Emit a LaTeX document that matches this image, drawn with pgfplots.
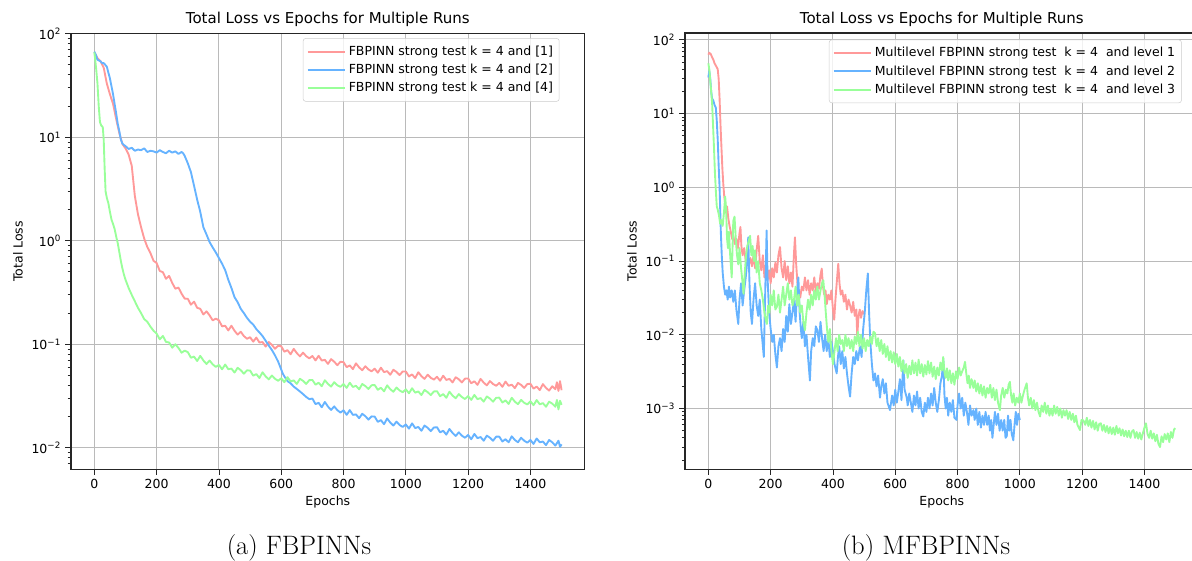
\documentclass[border=0pt]{standalone}
\usepackage{pgfplots}
\pgfplotsset{compat=1.18}
\usepackage{fontspec}
\newfontfamily\dejavu{DejaVu Sans}
\definecolor{lossred}{HTML}{FF9999}
\definecolor{lossblue}{HTML}{66B3FF}
\definecolor{lossgreen}{HTML}{99FF99}

\pgfplotsset{
  lossax/.style={
    scale only axis, width=410.9pt, height=349pt,
    xmin=-75, xmax=1574,
    xtick={0,200,...,1400},
    grid=major, grid style={line width=0.8pt, color=black!27},
    axis line style={line width=0.9pt, black!85},
    tick align=outside, tick pos=left,
    major tick length=4.5pt, minor tick length=2.6pt,
    every tick/.style={black!85, line width=0.7pt},
    font=\dejavu\fontsize{10}{12}\selectfont,
    ticklabel style={font=\dejavu\fontsize{10}{12}\selectfont},
    /pgf/number format/assume math mode=true,
    /pgf/number format/1000 sep={},
    title={Total Loss vs Epochs for Multiple Runs},
    title style={font=\dejavu\fontsize{12}{14}\selectfont, at={(0.5,1)}, anchor=south, yshift=-4.6pt},
    xlabel={Epochs}, ylabel={Total Loss},
    every axis x label/.style={at={(axis description cs:0.5,-0.075)}, anchor=center},
    every axis y label/.style={at={(axis description cs:-0.1032,0.5)}, rotate=90, anchor=center},
    legend cell align=left,
    legend image code/.code={\draw[##1] (0pt,0pt) -- (22pt,0pt); \path (0pt,0pt) -- (30pt,0pt);},
    legend style={font=\dejavu\fontsize{10}{12}\selectfont, draw=black!20, rounded corners=2pt,
      fill=white, fill opacity=0.8, text opacity=1, row sep=1.5pt, inner xsep=3pt, inner ysep=4pt},
    every axis plot/.append style={line width=1.5pt, line join=round},
  }
}

\begin{document}
\begin{tikzpicture}
% (a) FBPINNs
\begin{axis}[ymode=log, lossax, at={(56.8pt,73.2pt)}, anchor=south west,
    ymin=6.17e-3, ymax=101,
    ytick={0.01,0.1,1,10,100},
    yticklabels={10\textsuperscript{−2},10\textsuperscript{−1},10\textsuperscript{0},10\textsuperscript{1},10\textsuperscript{2}},
    minor ytick={0.007,0.008,0.009,0.02,0.03,0.04,0.05,0.06,0.07,0.08,0.09,0.2,0.3,0.4,0.5,0.6,0.7,0.8,0.9,2,3,4,5,6,7,8,9,20,30,40,50,60,70,80,90},
    legend style={at={(0.951,0.9886)}, anchor=north east},
]
\addplot[lossred] coordinates {
(0,66) (5,62) (10,58) (20,54) (30,47) (40,33) (50,26) (60,21) (70,15) (80,11) (90,8.6) (100,7.8) (110,6.8) (120,5.3) (130,2.7) (140,1.8) (150,1.35) (160,1.05) (170,0.87) (180,0.76) (190,0.64)
(200,0.609) (210,0.510) (220,0.497) (230,0.429) (240,0.457) (250,0.391) (260,0.344) (270,0.353) (280,0.308) (290,0.276)
(300,0.275) (310,0.241) (320,0.258) (330,0.225) (340,0.22) (350,0.194) (360,0.208) (370,0.190) (380,0.170) (390,0.177)
(400,0.170) (410,0.149) (420,0.151) (430,0.136) (440,0.151) (450,0.135) (460,0.124) (470,0.132) (480,0.120) (490,0.113)
(500,0.117) (510,0.106) (520,0.116) (530,0.104) (540,0.105) (550,0.095) (560,0.105) (570,0.0986) (580,0.0905) (590,0.0968)
(600,0.0956) (610,0.0848) (620,0.0877) (630,0.080) (640,0.0903) (650,0.0821) (660,0.0764) (670,0.083) (680,0.0768) (690,0.0731)
(700,0.077) (710,0.0698) (720,0.0774) (730,0.0696) (740,0.0707) (750,0.0646) (760,0.0718) (770,0.0679) (780,0.0628) (790,0.0677)
(800,0.0672) (810,0.0601) (820,0.0625) (830,0.0575) (840,0.0654) (850,0.0598) (860,0.0561) (870,0.0614) (880,0.0571) (890,0.0548)
(900,0.0581) (910,0.0531) (920,0.0594) (930,0.0538) (940,0.055) (950,0.0507) (960,0.0567) (970,0.054) (980,0.0504) (990,0.0546)
(1000,0.0546) (1010,0.0489) (1020,0.0511) (1030,0.0471) (1040,0.0537) (1050,0.0492) (1060,0.0463) (1070,0.0508) (1080,0.0474) (1090,0.0456)
(1100,0.0485) (1110,0.0444) (1120,0.0497) (1130,0.0452) (1140,0.0463) (1150,0.0428) (1160,0.048) (1170,0.0459) (1180,0.0428) (1190,0.0466)
(1200,0.0467) (1210,0.042) (1220,0.0439) (1230,0.0405) (1240,0.0463) (1250,0.0426) (1260,0.0401) (1270,0.0441) (1280,0.0413) (1290,0.0397)
(1300,0.0423) (1310,0.0388) (1320,0.0436) (1330,0.0397) (1340,0.0407) (1350,0.0377) (1360,0.0423) (1370,0.0405) (1380,0.0379) (1390,0.0413)
(1400,0.0415) (1410,0.0373) (1420,0.039) (1430,0.0361) (1440,0.0412) (1450,0.0379) (1460,0.0357) (1470,0.0393) (1480,0.0368) (1485,0.043) (1490,0.0354) (1495,0.044) (1500,0.036)
};
\addlegendentry{FBPINN strong test k = 4 and [1]}
\addplot[lossblue] coordinates {
(0,67) (5,62) (10,56) (15,55) (20,54) (25,52) (30,52) (35,50) (40,48) (45,42) (50,37) (55,31) (60,26) (65,21) (70,17) (75,13.5) (80,11.5) (85,9.5) (90,8.7) (95,8.4) (100,8.2)
(110,7.7) (120,7.9) (130,7.4) (140,7.6) (150,7.5) (160,7.8) (170,7.2) (180,7.4) (190,7.3) (200,7.1) (210,7.5) (220,7.2) (230,7.0) (240,7.4) (250,7.1) (260,7.3) (270,6.9) (280,7.2) (285,7.0) (290,6.6)
(300,5.6) (310,4.6) (320,3.4) (330,2.5) (340,1.9) (350,1.35) (360,1.15) (370,0.97) (380,0.86) (390,0.77) (400,0.68) (410,0.6) (420,0.52) (430,0.42) (440,0.35) (450,0.285) (460,0.255) (470,0.22) (480,0.2) (490,0.18)
(500,0.165) (510,0.155) (520,0.14) (530,0.13) (540,0.12) (550,0.108) (560,0.097) (570,0.088) (580,0.078) (590,0.068) (600,0.057) (605,0.052) (610,0.049) (620,0.044) (630,0.042) (640,0.039) (650,0.037) (660,0.035) (670,0.033) (680,0.031) (690,0.0295)
(700,0.0299) (710,0.0264) (720,0.0272) (730,0.0246) (740,0.0277) (750,0.025) (760,0.0232) (770,0.0251) (780,0.0231) (790,0.0219)
(800,0.023) (810,0.0208) (820,0.0231) (830,0.0208) (840,0.021) (850,0.0193) (860,0.0213) (870,0.0202) (880,0.0187) (890,0.0201)
(900,0.02) (910,0.0178) (920,0.0185) (930,0.0169) (940,0.0192) (950,0.0175) (960,0.0164) (970,0.0179) (980,0.0166) (990,0.0159)
(1000,0.0168) (1010,0.0153) (1020,0.0172) (1030,0.0155) (1040,0.0159) (1050,0.0146) (1060,0.0164) (1070,0.0156) (1080,0.0145) (1090,0.0157)
(1100,0.0158) (1110,0.0141) (1120,0.0146) (1130,0.0134) (1140,0.0152) (1150,0.0139) (1160,0.013) (1170,0.0141) (1180,0.0131) (1190,0.0125)
(1200,0.0133) (1210,0.0121) (1220,0.0136) (1230,0.0124) (1240,0.0127) (1250,0.0117) (1260,0.0131) (1270,0.0125) (1280,0.0117) (1290,0.0128)
(1300,0.0128) (1310,0.0115) (1320,0.0121) (1330,0.0113) (1340,0.0129) (1350,0.0119) (1360,0.0113) (1370,0.0125) (1380,0.0117) (1390,0.0112)
(1400,0.0119) (1410,0.0109) (1420,0.0123) (1430,0.0113) (1440,0.0115) (1450,0.0106) (1460,0.0119) (1470,0.0113) (1480,0.0105) (1490,0.0117) (1495,0.0102) (1500,0.0108)
};
\addlegendentry{FBPINN strong test k = 4 and [2]}
\addplot[lossgreen] coordinates {
(0,66) (3,55) (6,45) (10,33) (14,20) (18,14) (22,13) (27,12.5) (30,9.5) (33,5) (36,3) (40,2.6) (45,2.3) (50,1.9) (55,1.6) (60,1.45) (65,1.3) (70,1.1) (75,0.95) (80,0.78) (85,0.64) (90,0.54) (95,0.47)
(100,0.42) (110,0.35) (120,0.3) (130,0.26) (140,0.225) (150,0.2) (160,0.175) (170,0.165) (180,0.148) (190,0.135)
(200,0.1265) (210,0.1116) (220,0.1204) (230,0.1054) (240,0.104) (250,0.0926) (260,0.1001) (270,0.0921) (280,0.0829) (290,0.0868)
(300,0.084) (310,0.0741) (320,0.076) (330,0.0689) (340,0.0773) (350,0.0697) (360,0.0645) (370,0.0696) (380,0.0639) (390,0.0604)
(400,0.0632) (410,0.0573) (420,0.0637) (430,0.0574) (440,0.0582) (450,0.0533) (460,0.0592) (470,0.0562) (480,0.052) (490,0.056)
(500,0.0557) (510,0.0497) (520,0.0515) (530,0.0472) (540,0.0536) (550,0.0489) (560,0.0458) (570,0.0499) (580,0.0464) (590,0.0444)
(600,0.0469) (610,0.043) (620,0.0481) (630,0.0437) (640,0.0448) (650,0.0414) (660,0.0464) (670,0.0443) (680,0.0414) (690,0.045)
(700,0.0452) (710,0.0407) (720,0.0425) (730,0.0393) (740,0.0449) (750,0.0414) (760,0.039) (770,0.043) (780,0.0402) (790,0.0388)
(800,0.0413) (810,0.0379) (820,0.0425) (830,0.0387) (840,0.0397) (850,0.0367) (860,0.0413) (870,0.0395) (880,0.037) (890,0.0402)
(900,0.0404) (910,0.0363) (920,0.038) (930,0.0351) (940,0.0401) (950,0.0368) (960,0.0348) (970,0.0382) (980,0.0358) (990,0.0344)
(1000,0.0367) (1010,0.0336) (1020,0.0376) (1030,0.0341) (1040,0.035) (1050,0.0323) (1060,0.0362) (1070,0.0345) (1080,0.0323) (1090,0.035)
(1100,0.0352) (1110,0.0315) (1120,0.033) (1130,0.0304) (1140,0.0348) (1150,0.0319) (1160,0.0301) (1170,0.033) (1180,0.0309) (1190,0.0296)
(1200,0.0316) (1210,0.029) (1220,0.0324) (1230,0.0295) (1240,0.0302) (1250,0.0279) (1260,0.0313) (1270,0.0299) (1280,0.0279) (1290,0.0304)
(1300,0.0305) (1310,0.0274) (1320,0.0287) (1330,0.0265) (1340,0.0304) (1350,0.0279) (1360,0.0264) (1370,0.029) (1380,0.0272) (1390,0.0262)
(1400,0.0281) (1410,0.0258) (1420,0.0289) (1430,0.0263) (1440,0.027) (1450,0.0249) (1460,0.0279) (1470,0.0267) (1480,0.0249) (1485,0.029) (1490,0.0235) (1495,0.0285) (1500,0.026)
};
\addlegendentry{FBPINN strong test k = 4 and [4]}
\end{axis}

% (b) MFBPINNs
\begin{axis}[ymode=log, lossax, at={(548pt,73.4pt)}, anchor=south west,
    ymin=1.5e-4, ymax=124,
    ytick={0.001,0.01,0.1,1,10,100},
    yticklabels={10\textsuperscript{−3},10\textsuperscript{−2},10\textsuperscript{−1},10\textsuperscript{0},10\textsuperscript{1},10\textsuperscript{2}},
    minor ytick={0.0002,0.0003,0.0004,0.0005,0.0006,0.0007,0.0008,0.0009,0.002,0.003,0.004,0.005,0.006,0.007,0.008,0.009,0.02,0.03,0.04,0.05,0.06,0.07,0.08,0.09,0.2,0.3,0.4,0.5,0.6,0.7,0.8,0.9,2,3,4,5,6,7,8,9,20,30,40,50,60,70,80,90},
    legend style={at={(0.2803,0.9847)}, anchor=north west},
]
\addplot[lossred] coordinates {
(0,63) (3,67) (8,64) (12,58) (16,54) (20,48) (25,44) (30,40) (33,30) (36,16) (39,7) (42,3.5) (45,1.8) (48,1.1) (51,0.75) (54,0.6) (57,0.45) (60,0.55) (64,0.38) (68,0.3) (72,0.25) (76,0.2) (80,0.22) (85,0.17) (90,0.2) (95,0.15)
(100,0.24) (103,0.29) (106,0.16) (110,0.12) (115,0.15) (120,0.1) (125,0.13) (130,0.09) (135,0.11) (140,0.085) (145,0.12) (150,0.08) (155,0.14) (160,0.22) (165,0.1) (170,0.075) (175,0.12) (180,0.06) (185,0.09) (190,0.055) (195,0.075)
(200,0.05) (205,0.08) (210,0.06) (215,0.095) (220,0.07) (225,0.12) (230,0.155) (235,0.08) (240,0.06) (245,0.1) (250,0.055) (255,0.085) (260,0.05) (265,0.07) (270,0.045) (275,0.13) (278,0.21) (282,0.09) (286,0.05) (290,0.035) (295,0.032)
(300,0.045) (305,0.04) (310,0.06) (315,0.04) (320,0.055) (325,0.035) (330,0.05) (335,0.04) (340,0.06) (345,0.038) (350,0.05) (355,0.042) (360,0.065) (364,0.079) (368,0.045) (372,0.035) (376,0.04) (380,0.026) (385,0.035) (390,0.03) (395,0.04)
(400,0.022) (404,0.016) (408,0.03) (412,0.05) (417,0.092) (421,0.05) (425,0.035) (430,0.04) (435,0.028) (440,0.035) (445,0.022) (450,0.03) (455,0.025) (460,0.02) (465,0.028) (470,0.018) (475,0.022) (478,0.0095) (482,0.018) (486,0.022) (490,0.017) (495,0.021) (500,0.019)
};
\addlegendentry{Multilevel FBPINN strong test~ k = 4~ and level 1}
\addplot[lossblue] coordinates {
(0,31) (3,38) (6,30) (9,20) (12,16) (16,15) (20,13) (24,12) (27,8) (30,4.5) (33,2) (36,1.0) (38,0.5) (40,0.25) (43,0.12) (46,0.07) (50,0.045) (54,0.035) (58,0.04) (62,0.03) (66,0.045) (70,0.032) (75,0.04) (80,0.028) (85,0.04) (90,0.022) (96,0.014)
(100,0.03) (105,0.05) (110,0.025) (115,0.04) (120,0.06) (125,0.1) (128,0.21) (132,0.05) (136,0.02) (140,0.014) (145,0.03) (150,0.05) (155,0.025) (160,0.018) (165,0.03) (170,0.012) (175,0.007) (178,0.005) (182,0.03) (187,0.26) (190,0.06) (195,0.02)
(200,0.012) (205,0.008) (210,0.01) (215,0.0055) (220,0.0036) (225,0.007) (230,0.009) (235,0.006) (240,0.012) (245,0.008) (250,0.018) (255,0.011) (260,0.026) (265,0.014) (270,0.02) (275,0.03) (280,0.015) (285,0.04) (289,0.06) (293,0.02) (297,0.012)
(300,0.009) (305,0.015) (310,0.007) (315,0.01) (320,0.005) (326,0.0024) (330,0.006) (335,0.009) (340,0.007) (345,0.013) (350,0.0115) (355,0.008) (360,0.015) (365,0.009) (370,0.006) (375,0.01) (380,0.006) (385,0.009) (390,0.005) (395,0.008)
(400,0.006) (405,0.004) (412,0.003) (416,0.005) (420,0.007) (425,0.004) (430,0.006) (435,0.0035) (440,0.005) (445,0.003) (450,0.002) (455,0.00145) (460,0.003) (465,0.005) (470,0.004) (475,0.006) (480,0.0045) (487,0.007) (492,0.005) (497,0.012)
(502,0.02) (507,0.04) (512,0.068) (516,0.02) (520,0.008) (525,0.004) (530,0.0024) (535,0.003) (540,0.002) (545,0.0028) (551,0.0014) (555,0.002) (560,0.0025) (565,0.0016) (570,0.0022) (575,0.0012) (583,0.00095) (590,0.0015) (595,0.0011)
(600,0.0018) (605,0.0012) (610,0.0017) (615,0.0025) (620,0.0013) (626,0.0045) (630,0.0018) (637,0.0014) (640,0.0011) (645,0.0016) (650,0.0012) (655,0.0009) (660,0.0015) (665,0.0011) (670,0.0017) (675,0.001) (680,0.0014) (685,0.0009) (690,0.00078) (695,0.0012)
(700,0.0009) (705,0.0014) (710,0.001) (715,0.0016) (720,0.0011) (725,0.0019) (730,0.0012) (735,0.0009) (740,0.0013) (745,0.0022) (750,0.0028) (754,0.0048) (758,0.0015) (762,0.001) (766,0.0014) (770,0.0008) (775,0.0012) (780,0.0009) (785,0.0013) (790,0.00075) (797,0.0007)
(800,0.0011) (805,0.0016) (810,0.001) (815,0.0014) (820,0.0008) (825,0.0012) (830,0.0009) (835,0.0006) (840,0.0011) (845,0.0008) (851,0.00095) (855,0.0007) (860,0.001) (865,0.0006) (870,0.0009) (875,0.00055) (880,0.0008) (885,0.0006) (890,0.0009) (895,0.0006)
(900,0.0008) (904,0.0005) (908,0.0007) (912,0.0004) (916,0.0006) (920,0.0009) (925,0.0006) (930,0.00085) (935,0.0005) (940,0.0007) (945,0.0005) (950,0.0007) (954,0.0004) (958,0.00042) (962,0.0008) (966,0.0005) (970,0.0007) (974,0.00045) (979,0.00037) (983,0.0006) (987,0.0009) (991,0.0006) (995,0.00085) (1000,0.0007)
};
\addlegendentry{Multilevel FBPINN strong test~ k = 4~ and level 2}
\addplot[lossgreen] coordinates {
(0,48) (3,40) (6,28) (9,20) (12,14) (15,7) (18,3.5) (21,1.6) (24,0.9) (27,0.55) (30,0.5) (34,0.42) (38,0.32) (42,0.36) (46,0.3) (50,0.45) (54,0.75) (57,0.5) (60,0.2) (63,0.15) (66,0.25) (70,0.12) (75,0.06) (80,0.35) (84,0.4) (88,0.2) (92,0.12) (96,0.09)
(100,0.15) (105,0.08) (110,0.05) (113,0.036) (117,0.07) (121,0.12) (125,0.16) (130,0.19) (134,0.22) (138,0.12) (142,0.16) (146,0.1) (150,0.14) (155,0.07) (160,0.1) (165,0.05) (170,0.04) (175,0.03) (180,0.02) (184,0.016) (188,0.014) (192,0.025) (196,0.02)
(200,0.035) (205,0.025) (210,0.04) (215,0.022) (220,0.024) (225,0.035) (230,0.02) (235,0.03) (240,0.045) (245,0.025) (250,0.035) (255,0.05) (260,0.03) (265,0.04) (270,0.025) (275,0.03) (280,0.045) (285,0.025) (290,0.035) (295,0.02)
(300,0.025) (305,0.015) (310,0.0115) (315,0.02) (320,0.03) (325,0.022) (330,0.035) (335,0.025) (340,0.04) (345,0.03) (350,0.045) (355,0.03) (360,0.04) (365,0.05) (369,0.055) (373,0.035) (377,0.02) (381,0.012) (385,0.008) (390,0.012) (395,0.006)
(400,0.004) (405,0.006) (410,0.009) (415,0.006) (420,0.01) (425,0.0075) (430,0.0085) (435,0.006) (440,0.01) (445,0.007) (450,0.009) (455,0.0065) (460,0.0085) (465,0.006) (470,0.0095) (475,0.0075) (480,0.011) (485,0.007) (490,0.01) (495,0.0065)
(500,0.009) (505,0.006) (510,0.0085) (515,0.007) (520,0.0095) (525,0.0075) (530,0.011) (535,0.0105) (540,0.007) (545,0.009) (550,0.006) (555,0.0085) (560,0.0055) (565,0.0075) (570,0.005) (575,0.007) (580,0.0045) (585,0.006) (590,0.0042) (595,0.0058)
(600,0.004) (605,0.0055) (610,0.0037) (615,0.005) (620,0.0032) (625,0.0045) (630,0.003) (635,0.004) (640,0.0026) (645,0.0038) (650,0.0029) (655,0.0045) (660,0.003) (665,0.0042) (670,0.0028) (675,0.0046) (680,0.003) (685,0.004) (690,0.0027) (695,0.0039)
(700,0.0029) (705,0.0044) (710,0.003) (715,0.0042) (720,0.0027) (725,0.0037) (730,0.0025) (735,0.0036) (740,0.0028) (745,0.0042) (750,0.0033) (754,0.005) (758,0.0031) (762,0.0026) (766,0.0035) (770,0.0024) (775,0.0033) (780,0.0022) (785,0.003) (790,0.0021) (795,0.0032)
(800,0.0025) (805,0.0036) (810,0.0028) (815,0.0032) (820,0.0036) (824,0.0043) (828,0.003) (832,0.0022) (836,0.0028) (840,0.0019) (845,0.0025) (851,0.0019) (855,0.0024) (860,0.0017) (865,0.0022) (870,0.0016) (875,0.0021) (880,0.0015) (885,0.002) (890,0.0014) (895,0.0019)
(900,0.0016) (905,0.0021) (910,0.0014) (915,0.0019) (920,0.0013) (925,0.0018) (930,0.0012) (936,0.00095) (940,0.0015) (945,0.0019) (950,0.0014) (955,0.0018) (960,0.0016) (964,0.0021) (968,0.0023) (972,0.0015) (976,0.0012) (980,0.0016) (985,0.0011) (990,0.0014) (995,0.0012)
(1000,0.0016) (1005,0.0012) (1010,0.0015) (1015,0.0018) (1022,0.0022) (1026,0.0014) (1030,0.0011) (1035,0.0014) (1040,0.001) (1045,0.0013) (1050,0.00095) (1055,0.0012) (1060,0.0009) (1065,0.00078) (1070,0.0011) (1075,0.0009) (1080,0.0012) (1085,0.00085) (1090,0.0011) (1095,0.0008)
(1100,0.001) (1105,0.0008) (1110,0.0011) (1115,0.00085) (1120,0.00105) (1125,0.0008) (1130,0.001) (1135,0.00075) (1140,0.00095) (1145,0.0008) (1150,0.00095) (1155,0.00072) (1160,0.0009) (1165,0.0007) (1170,0.00085) (1175,0.00065) (1180,0.0008) (1185,0.0006) (1193,0.00051) (1198,0.0007)
(1204,0.00069) (1210,0.0006) (1215,0.00075) (1220,0.00058) (1225,0.0007) (1230,0.00055) (1235,0.00068) (1240,0.00052) (1245,0.00065) (1250,0.0005) (1255,0.00062) (1260,0.00063) (1265,0.0005) (1270,0.0006) (1275,0.00048) (1280,0.00058) (1285,0.00046) (1290,0.00056) (1295,0.00045)
(1300,0.00055) (1305,0.00044) (1310,0.00058) (1315,0.00046) (1320,0.00054) (1325,0.00043) (1330,0.00052) (1335,0.00042) (1340,0.0005) (1345,0.00041) (1350,0.0005) (1355,0.0004) (1360,0.00049) (1365,0.00051) (1370,0.0004) (1375,0.00048) (1380,0.00039) (1385,0.00047) (1390,0.00038) (1395,0.00046)
(1400,0.00055) (1405,0.00063) (1410,0.00045) (1415,0.0004) (1420,0.0005) (1425,0.00039) (1430,0.00046) (1435,0.00036) (1440,0.00044) (1445,0.00033) (1450,0.0003) (1455,0.00042) (1460,0.00035) (1465,0.00045) (1470,0.00038) (1475,0.00046) (1480,0.00035) (1485,0.00048) (1490,0.0004) (1495,0.00052) (1499,0.00054)
};
\addlegendentry{Multilevel FBPINN strong test~ k = 4~ and level 3}
\end{axis}

\node[font=\fontsize{21.3}{25}\selectfont] at (239.2pt,10.4pt) {(a) FBPINNs};
\node[font=\fontsize{21.3}{25}\selectfont] at (740.8pt,10.4pt) {(b) MFBPINNs};

\pgfresetboundingbox
\path[use as bounding box] (0pt,0pt) rectangle (953.6pt,448.8pt);
\end{tikzpicture}
\end{document}
